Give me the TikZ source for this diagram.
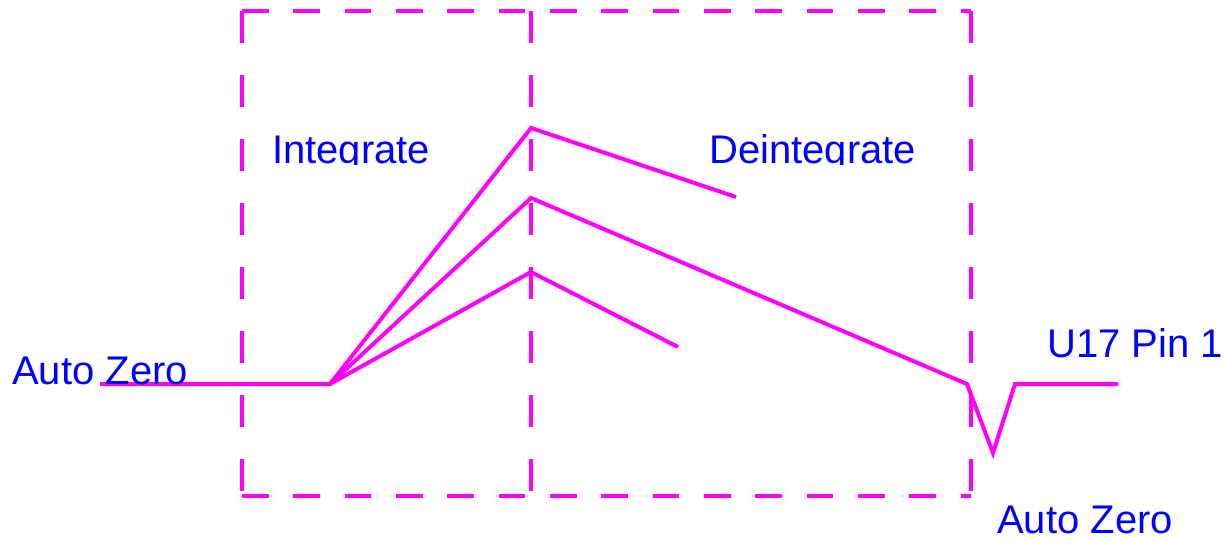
\documentclass[tikz,border=0pt]{standalone}
\usepackage{fontspec}
\setmainfont{Liberation Sans}
\definecolor{mag}{RGB}{255,0,255}
\definecolor{lbl}{RGB}{0,0,255}
\begin{document}
\begin{tikzpicture}[x=0.75pt,y=-0.75pt,
  hdash/.style={draw=mag,line width=3pt,dash pattern=on 20pt off 18.5pt},
  vdash/.style={draw=mag,line width=3pt,dash pattern=on 24pt off 24pt},
  wave/.style={draw=mag,line width=3pt,line join=miter},
  lab/.style={text=lbl,font=\fontsize{30pt}{34pt}\selectfont,inner sep=0pt,anchor=base west}]
\useasboundingbox (0,0) rectangle (1225,540);
% frames
\coordinate (tl) at (242,11);
\coordinate (tm) at (531,11);
\coordinate (tr) at (971,11);
\coordinate (bl) at (242,496);
\coordinate (bm) at (531,496);
\coordinate (br) at (971,496);
\draw[hdash] (tl) -- (tr);
\draw[hdash] (bl) -- (br);
\draw[vdash] (tl) -- (bl);
\draw[vdash] (tm) -- (bm);
\draw[vdash] (tr) -- (br);
% waveform
\coordinate (s0) at (100,384);
\coordinate (s1) at (330,384);
\coordinate (p1) at (531,128);
\coordinate (e1) at (736,197);
\coordinate (p2) at (531,198);
\coordinate (e2) at (967,384);
\coordinate (dip) at (993,453);
\coordinate (r1) at (1015,384);
\coordinate (r2) at (1118,384);
\coordinate (p3) at (531,272);
\coordinate (e3) at (678,347);
\draw[wave] (s0) -- (s1) -- (p1) -- (e1);
\draw[wave] (s1) -- (p2) -- (e2) -- (dip) -- (r1) -- (r2);
\draw[wave] (s1) -- (p3) -- (e3);
% labels
\begin{scope}
\clip (0,0) rectangle (1225,164);
\node[lab] (integ) at (272,163) {Integrate};
\node[lab] (deinteg) at (709,163) {Deintegrate};
\end{scope}
\node[lab] (az1) at (12,384) {Auto Zero};
\node[lab] (u17) at (1047,357) {U17 Pin 1};
\node[lab] (az2) at (997,533) {Auto Zero};
\end{tikzpicture}
\end{document}
